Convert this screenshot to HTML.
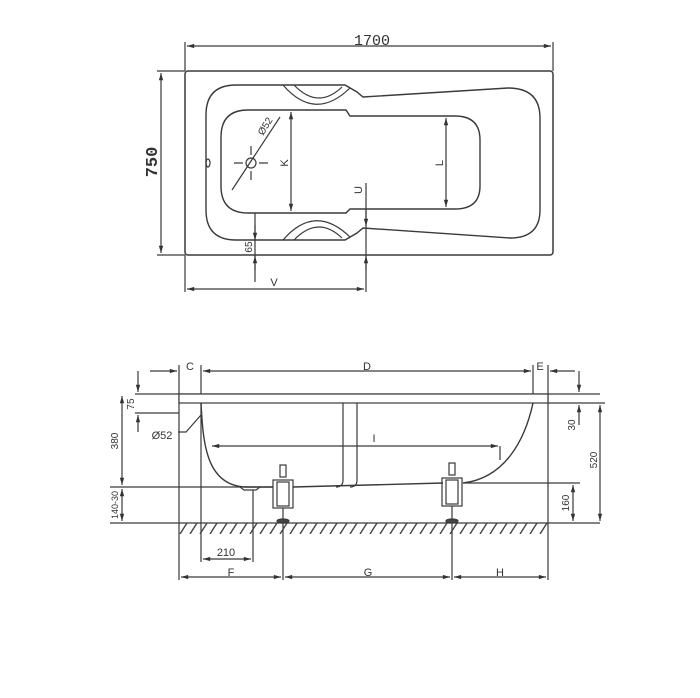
<!DOCTYPE html>
<html><head><meta charset="utf-8"><style>body{margin:0;background:#fff}svg{display:block}</style></head><body>
<svg width="700" height="698" viewBox="0 0 700 698" xmlns="http://www.w3.org/2000/svg">
<defs>
<marker id="a" viewBox="0 0 10 10" refX="10" refY="5" markerWidth="8" markerHeight="6" orient="auto-start-reverse"><path d="M0,2 L10,5 L0,8z" fill="#333"/></marker>
<pattern id="h" x="179" y="523" width="10" height="11" patternUnits="userSpaceOnUse"><line x1="1" y1="11" x2="8" y2="0" stroke="#444" stroke-width="1.4"/></pattern>
</defs>
<g fill="none" stroke="#3a3a3a" stroke-width="1.2" font-family="Liberation Sans, sans-serif">
<!-- TOP VIEW -->
<line x1="185" y1="42" x2="185" y2="71"/><line x1="553" y1="42" x2="553" y2="71"/>
<line x1="187" y1="46" x2="551" y2="46" marker-start="url(#a)" marker-end="url(#a)"/>
<line x1="157" y1="71" x2="185" y2="71"/><line x1="157" y1="255" x2="185" y2="255"/>
<line x1="161" y1="73" x2="161" y2="253" marker-start="url(#a)" marker-end="url(#a)"/>
<rect x="185" y="71" width="368" height="184" rx="3" stroke-width="1.5"/>
<path d="M236,85 L345,85 L357,92 L363,97 L508,88 Q540,88 540,118 L540,210 Q540,238 510,238 L363,228 L357,233 L345,240 L236,240 Q206,240 206,210 L206,115 Q206,85 236,85Z" stroke-width="1.4"/>
<path d="M283,85 Q315,122 350,88 M294,85 Q318,110 342,87" />
<path d="M283,240 Q315,203 350,237 M294,240 Q318,215 342,238" />
<ellipse cx="208" cy="163" rx="2" ry="4"/>
<path d="M248,110 L346,110 L350,116 L455,116 Q480,116 480,140 L480,186 Q480,209 455,209 L350,209 L346,213 L248,213 Q221,213 221,186 L221,137 Q221,110 248,110Z" stroke-width="1.4"/>
<circle cx="251" cy="163" r="5"/>
<path d="M234,163 h9 M259,163 h9 M251,146 v9 M251,171 v9"/>
<line x1="232" y1="190" x2="280" y2="117"/>
<line x1="291" y1="112" x2="291" y2="211" marker-start="url(#a)" marker-end="url(#a)"/>
<line x1="446" y1="118" x2="446" y2="207" marker-start="url(#a)" marker-end="url(#a)"/>
<line x1="366" y1="183" x2="366" y2="292"/>
<line x1="366" y1="210" x2="366" y2="226" marker-end="url(#a)"/>
<line x1="366" y1="270" x2="366" y2="256" marker-end="url(#a)"/>
<line x1="255" y1="213" x2="255" y2="282"/>
<line x1="255" y1="225" x2="255" y2="240" marker-end="url(#a)"/>
<line x1="255" y1="270" x2="255" y2="256" marker-end="url(#a)"/>
<line x1="185" y1="255" x2="185" y2="292"/>
<line x1="187" y1="289" x2="364" y2="289" marker-start="url(#a)" marker-end="url(#a)"/>
<!-- SIDE VIEW -->
<line x1="150" y1="371" x2="177" y2="371" marker-end="url(#a)"/>
<line x1="203" y1="371" x2="531" y2="371" marker-start="url(#a)" marker-end="url(#a)"/>
<line x1="575" y1="371" x2="550" y2="371" marker-end="url(#a)"/>
<line x1="179" y1="365" x2="179" y2="580"/>
<line x1="201" y1="365" x2="201" y2="562"/>
<line x1="533" y1="365" x2="533" y2="394"/>
<line x1="548" y1="365" x2="548" y2="580"/>
<line x1="135" y1="394" x2="600" y2="394"/>
<rect x="179" y="394" width="369" height="9" fill="#fff"/>
<path d="M201,403 C203,440 205,485 245,487 L273,487 M293,487 L443,483 M463,483 C505,478 525,440 533,403" stroke-width="1.4"/>
<path d="M343,403 L343,480 Q343,487 336,487 M357,403 L357,480 Q357,487 350,487"/>
<line x1="212" y1="446" x2="498" y2="446" marker-start="url(#a)" marker-end="url(#a)"/>
<line x1="500" y1="446" x2="500" y2="460"/>
<path d="M240,487 L244,490 L256,490 L260,487"/>
<line x1="253" y1="490" x2="253" y2="562"/>
<g>
<rect x="273" y="480" width="20" height="28"/><rect x="277" y="482" width="12" height="24"/>
<rect x="280" y="465" width="6" height="12"/><line x1="283" y1="508" x2="283" y2="580"/>
<ellipse cx="283" cy="521" rx="6" ry="2" fill="#444"/>
<rect x="442" y="478" width="20" height="28"/><rect x="446" y="480" width="12" height="24"/>
<rect x="449" y="463" width="6" height="12"/><line x1="452" y1="506" x2="452" y2="580"/>
<ellipse cx="452" cy="521" rx="6" ry="2" fill="#444"/>
</g>
<rect x="179" y="523" width="369" height="11" fill="url(#h)" stroke="none"/>
<line x1="110" y1="523" x2="600" y2="523"/>
<line x1="110" y1="487" x2="273" y2="487"/>
<line x1="463" y1="483" x2="580" y2="483"/>
<line x1="135" y1="413" x2="179" y2="413"/>
<line x1="138" y1="371" x2="138" y2="392" marker-end="url(#a)"/>
<line x1="138" y1="432" x2="138" y2="415" marker-end="url(#a)"/>
<line x1="122" y1="396" x2="122" y2="485" marker-start="url(#a)" marker-end="url(#a)"/>
<line x1="122" y1="489" x2="122" y2="521" marker-start="url(#a)" marker-end="url(#a)"/>
<path d="M201,415 L186,432 L178,432"/>
<line x1="579" y1="371" x2="579" y2="392" marker-end="url(#a)"/>
<line x1="579" y1="425" x2="579" y2="405" marker-end="url(#a)"/>
<line x1="548" y1="403" x2="605" y2="403"/>
<line x1="600" y1="405" x2="600" y2="521" marker-start="url(#a)" marker-end="url(#a)"/>
<line x1="573" y1="485" x2="573" y2="521" marker-start="url(#a)" marker-end="url(#a)"/>
<line x1="203" y1="559" x2="251" y2="559" marker-start="url(#a)" marker-end="url(#a)"/>
<line x1="181" y1="577" x2="281" y2="577" marker-start="url(#a)" marker-end="url(#a)"/>
<line x1="285" y1="577" x2="450" y2="577" marker-start="url(#a)" marker-end="url(#a)"/>
<line x1="454" y1="577" x2="546" y2="577" marker-start="url(#a)" marker-end="url(#a)"/>
</g>
<g fill="#333" font-family="Liberation Sans, sans-serif" font-size="11">
<text x="372" y="45" font-family="Liberation Mono, monospace" font-size="15" text-anchor="middle">1700</text>
<text transform="translate(157,162) rotate(-90)" font-family="Liberation Mono, monospace" font-size="17" font-weight="bold" text-anchor="middle">750</text>
<text transform="translate(268,128) rotate(-58)" text-anchor="middle" font-size="10">Ø52</text>
<text transform="translate(288,163) rotate(-90)" text-anchor="middle">K</text>
<text transform="translate(443,163) rotate(-90)" text-anchor="middle">L</text>
<text transform="translate(362,190) rotate(-90)" text-anchor="middle">U</text>
<text transform="translate(252,247) rotate(-90)" text-anchor="middle" font-size="10">65</text>
<text x="274" y="286" text-anchor="middle">V</text>
<text x="190" y="370" text-anchor="middle">C</text>
<text x="367" y="370" text-anchor="middle">D</text>
<text x="540" y="370" text-anchor="middle">E</text>
<text x="374" y="442" text-anchor="middle">I</text>
<text x="162" y="439" text-anchor="middle">Ø52</text>
<text transform="translate(134,404) rotate(-90)" text-anchor="middle" font-size="10">75</text>
<text transform="translate(118,441) rotate(-90)" text-anchor="middle" font-size="10">380</text>
<text transform="translate(118,505) rotate(-90)" text-anchor="middle" font-size="9">140-30</text>
<text transform="translate(575,425) rotate(-90)" text-anchor="middle" font-size="10">30</text>
<text transform="translate(597,460) rotate(-90)" text-anchor="middle" font-size="10">520</text>
<text transform="translate(569,503) rotate(-90)" text-anchor="middle" font-size="10">160</text>
<text x="226" y="556" text-anchor="middle">210</text>
<text x="231" y="576" text-anchor="middle">F</text>
<text x="368" y="576" text-anchor="middle">G</text>
<text x="500" y="576" text-anchor="middle">H</text>
</g>
</svg>
</body></html>
